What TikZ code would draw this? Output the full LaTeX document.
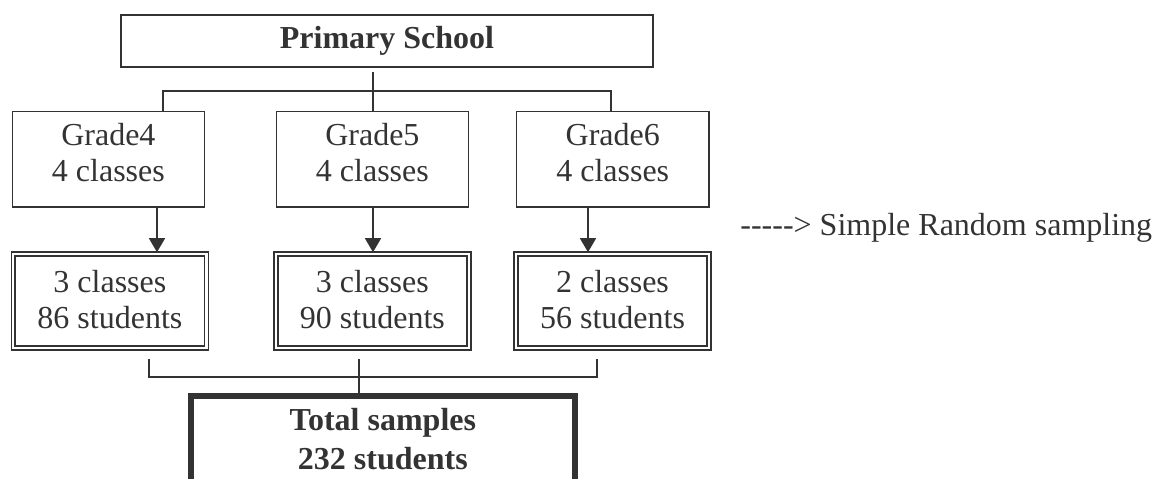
\documentclass[tikz,border=0pt]{standalone}
\usepackage{fontspec}
\setmainfont{Liberation Serif}
\usetikzlibrary{arrows.meta}
\definecolor{ink}{HTML}{333333}
\begin{document}
\begin{tikzpicture}[x=0.5pt,y=-0.5pt,
  every node/.style={text=ink},
  txt/.style={anchor=base,inner sep=0pt,font=\fontsize{16}{18}\selectfont},
  btxt/.style={txt,font=\fontsize{16}{18}\selectfont\bfseries},
  headbox/.style={draw=ink,line width=1pt,inner sep=0pt,minimum width=266pt,minimum height=25.85pt},
  gradebox/.style={draw=ink,line width=0.8pt,inner sep=0pt,minimum width=96.1pt,minimum height=47.75pt},
  samplebox/.style={draw=ink,double=white,line width=0.8pt,double distance=1.1pt,inner sep=0pt,minimum width=96.6pt,minimum height=47pt},
  totalbox/.style={draw=ink,line width=3pt,inner sep=0pt,minimum width=191.85pt,minimum height=82pt},
  conn/.style={draw=ink,line width=0.75pt},
  arr/.style={conn,-{Triangle[length=7pt,width=8pt]},shorten >=0.5pt}]
\useasboundingbox (0,0) rectangle (1165,478);

% boxes
\node[headbox] (ps) at (387,40.85) {};
\node[gradebox] (g4) at (108.4,159.25) {};
\node[gradebox] (g5) at (372.4,159.25) {};
\node[gradebox] (g6) at (612.75,159.25) {};
\node[samplebox] (s4) at (109.9,301) {};
\node[samplebox] (s5) at (372.4,301) {};
\node[samplebox] (s6) at (612.5,301) {};
\node[totalbox] (tot) at (382.85,478) {};

% texts
\node[btxt] (tps) at (387,48.3) {Primary School};
\node[txt] (tg4a) at (108.4,145) {Grade4};
\node[txt] (tg4b) at (108.4,181) {4 classes};
\node[txt] (tg5a) at (372.4,145) {Grade5};
\node[txt] (tg5b) at (372.4,181) {4 classes};
\node[txt] (tg6a) at (612.75,145) {Grade6};
\node[txt] (tg6b) at (612.75,181) {4 classes};
\node[txt] (ts4a) at (109.9,292.7) {3 classes};
\node[txt] (ts4b) at (109.9,328) {86 students};
\node[txt] (ts5a) at (372.4,292.7) {3 classes};
\node[txt] (ts5b) at (372.4,328) {90 students};
\node[txt] (ts6a) at (612.5,292.7) {2 classes};
\node[txt] (ts6b) at (612.5,328) {56 students};
\node[btxt] (tt1) at (382.85,430) {Total samples};
\node[btxt] (tt2) at (382.85,469) {232 students};
\node[txt,anchor=base west] (legend) at (740,235) {\mbox{-}\mbox{-}\mbox{-}\mbox{-}\mbox{-}\mbox{>} Simple Random sampling};

% coordinates for connectors
\coordinate (st) at (373,72);
\coordinate (d4) at (163,91);
\coordinate (d6) at (611,91);
\coordinate (a4) at (157,0);
\coordinate (a5) at (373,0);
\coordinate (a6) at (588,0);
\coordinate (b4) at (149,377);
\coordinate (b6) at (597,377);
\coordinate (bc) at (359,377);

% top tree
\draw[conn] (st) -- (g5.north -| st);
\draw[conn] (g4.north -| d4) -- (d4) -- (d6) -- (g6.north -| d6);

% arrows
\draw[arr] (g4.south -| a4) -- (s4.north -| a4);
\draw[arr] (g5.south -| a5) -- (s5.north -| a5);
\draw[arr] (g6.south -| a6) -- (s6.north -| a6);

% bottom tree
\draw[conn] ([yshift=-5pt]s4.south -| b4) -- (b4) -- (b6) -- ([yshift=-5pt]s6.south -| b6);
\draw[conn] ([yshift=-5pt]s5.south -| bc) -- (tot.north -| bc);
\end{tikzpicture}
\end{document}
